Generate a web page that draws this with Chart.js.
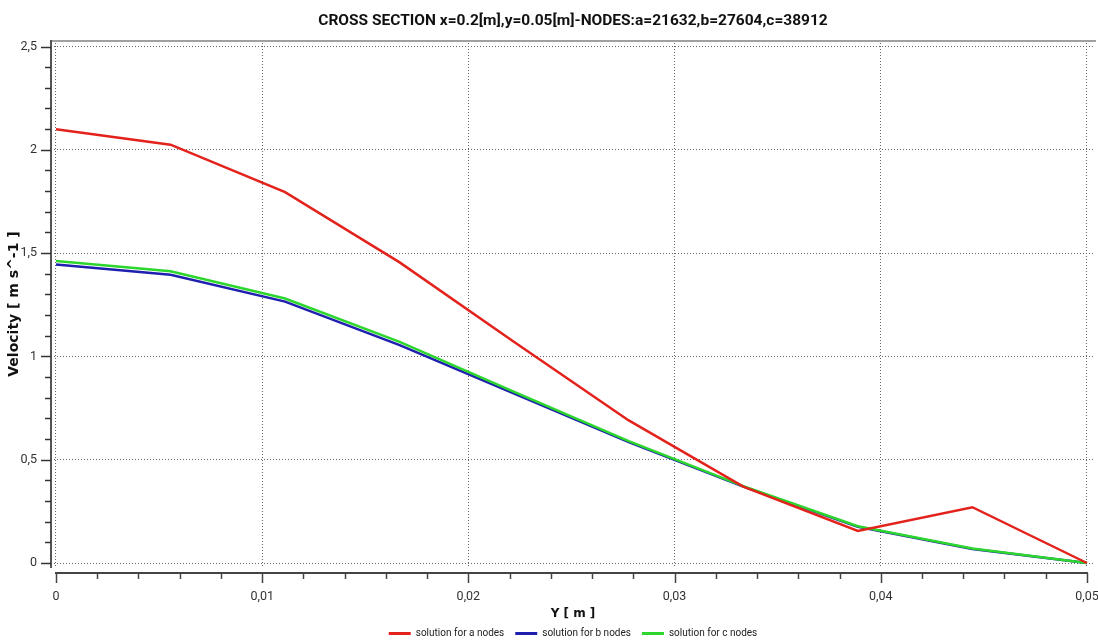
<!DOCTYPE html>
<html>
<head>
<meta charset="utf-8">
<script src="https://cdn.jsdelivr.net/npm/chart.js@4/dist/chart.umd.min.js"></script>
<style>
  html, body { margin: 0; padding: 0; background: #ffffff; }
  #wrap { width: 1098px; height: 643px; position: relative; }
</style>
</head>
<body>
<div id="wrap"><canvas id="c" width="1098" height="643"></canvas></div>
<script>
// ---- data ----
const positionsY = [0, 0.005556, 0.011111, 0.016667, 0.022222, 0.027778, 0.033333, 0.038889, 0.044444, 0.05];
const velocityA = [2.10, 2.025, 1.795, 1.455, 1.07, 0.69, 0.37, 0.155, 0.27, 0.00];
const velocityB = [1.445, 1.395, 1.265, 1.055, 0.82, 0.585, 0.37, 0.175, 0.068, 0.00];
const velocityC = [1.462, 1.412, 1.28, 1.07, 0.828, 0.59, 0.372, 0.178, 0.07, 0.00];
const seriesNames = ["solution for a nodes", "solution for b nodes", "solution for c nodes"];
const xTickValues = [0, 0.01, 0.02, 0.03, 0.04, 0.05];
const xTickLabels = ["0", "0,01", "0,02", "0,03", "0,04", "0,05"];
const yTickValues = [0, 0.5, 1, 1.5, 2, 2.5];
const yTickLabels = ["0", "0,5", "1", "1,5", "2", "2,5"];
const xMinorStep = 0.002;
const yMinorStep = 0.1;
const titleText = "CROSS SECTION x=0.2[m],y=0.05[m]-NODES:a=21632,b=27604,c=38912";
const xTitle = "Y [ m ]";
const yTitle = "Velocity [ m s^-1 ]";

const NARROW = "Roboto, 'DejaVu Sans Condensed', sans-serif";

function pts(vals) { return positionsY.map((x, i) => ({ x: x, y: vals[i] })); }

const axisDecor = {
  id: 'axisDecor',
  afterDraw(chart) {
    const ctx = chart.ctx;
    const xs = chart.scales.x, ys = chart.scales.y;
    const ca = chart.chartArea;
    ctx.save();
    // top frame line
    ctx.strokeStyle = '#a0a0a0';
    ctx.lineWidth = 2;
    ctx.beginPath();
    ctx.moveTo(ca.left, ca.top + 1);
    ctx.lineTo(chart.width - 2, ca.top + 1);
    ctx.stroke();
    // y axis line
    const yAxisX = ca.left;
    ctx.strokeStyle = '#555555';
    ctx.lineWidth = 2;
    ctx.beginPath();
    ctx.moveTo(yAxisX, ca.top);
    ctx.lineTo(yAxisX, ca.bottom);
    ctx.stroke();
    // y ticks
    ctx.lineWidth = 1.5;
    ctx.strokeStyle = '#333333';
    const yMax = yTickValues[yTickValues.length - 1];
    for (let k = 0; k * yMinorStep <= yMax + 1e-9; k++) {
      const v = k * yMinorStep;
      const py = Math.round(ys.getPixelForValue(v)) + 0.5;
      const major = (k % 5 === 0);
      ctx.beginPath();
      ctx.moveTo(yAxisX - (major ? 10 : 6), py);
      ctx.lineTo(yAxisX, py);
      ctx.stroke();
    }
    // x axis line
    const xAxisY = ca.bottom + 5;
    const x0 = xs.getPixelForValue(xTickValues[0]);
    const x1 = xs.getPixelForValue(xTickValues[xTickValues.length - 1]);
    ctx.strokeStyle = '#444444';
    ctx.lineWidth = 2;
    ctx.beginPath();
    ctx.moveTo(x0 - 1, xAxisY);
    ctx.lineTo(x1 + 1, xAxisY);
    ctx.stroke();
    ctx.lineWidth = 1.5;
    const xMax = xTickValues[xTickValues.length - 1];
    for (let k = 0; k * xMinorStep <= xMax + 1e-9; k++) {
      const v = k * xMinorStep;
      const px = Math.round(xs.getPixelForValue(v)) + 0.5;
      const major = (k % 5 === 0);
      ctx.beginPath();
      ctx.moveTo(px, xAxisY);
      ctx.lineTo(px, xAxisY + (major ? 10 : 6));
      ctx.stroke();
    }
    ctx.restore();
  }
};

const baseLabels = Chart.defaults.plugins.legend.labels.generateLabels;

new Chart(document.getElementById('c'), {
  type: 'scatter',
  data: {
    datasets: [
      { label: seriesNames[0], data: pts(velocityA), showLine: true, borderColor: '#e3221c', backgroundColor: '#e3221c', borderWidth: 2.5, pointRadius: 0, tension: 0, order: 0 },
      { label: seriesNames[1], data: pts(velocityB), showLine: true, borderColor: '#1f1fb0', backgroundColor: '#1f1fb0', borderWidth: 2.5, pointRadius: 0, tension: 0, order: 2 },
      { label: seriesNames[2], data: pts(velocityC), showLine: true, borderColor: '#2cd62c', backgroundColor: '#2cd62c', borderWidth: 2.5, pointRadius: 0, tension: 0, order: 1 }
    ]
  },
  options: {
    responsive: false,
    animation: false,
    devicePixelRatio: 1,
    layout: { padding: { left: 0, right: 3, top: 0, bottom: -5.5 } },
    plugins: {
      tooltip: { enabled: false },
      title: {
        display: true,
        text: titleText,
        fullSize: false,
        color: '#111111',
        font: { family: NARROW, size: 15.5, weight: 'bold', lineHeight: 1.2 },
        padding: { top: 11.5, bottom: 9.9 }
      },
      legend: {
        display: true,
        position: 'bottom',
        fullSize: false,
        labels: {
          boxWidth: 22,
          boxHeight: 3,
          padding: 11,
          color: '#222222',
          font: { family: NARROW, size: 10 },
          sort: (a, b) => a.datasetIndex - b.datasetIndex,
          generateLabels: (chart) => baseLabels(chart).map(l => Object.assign({}, l, { lineWidth: 0 }))
        }
      }
    },
    scales: {
      x: {
        type: 'linear',
        min: -0.000242,
        max: 0.05039,
        afterBuildTicks: (s) => { s.ticks = xTickValues.map(v => ({ value: v })); },
        afterFit: (s) => { s.height = 49.5; s.paddingLeft = 0; s.paddingRight = 0; },
        ticks: {
          padding: 21,
          color: '#333333',
          font: { family: NARROW, size: 12.5 },
          maxRotation: 0,
          autoSkip: false,
          callback: (v, i) => xTickLabels[i]
        },
        grid: { drawTicks: false, color: '#666666', lineWidth: 1 },
        border: { display: false, dash: [1, 2] },
        title: {
          display: true,
          text: xTitle,
          color: '#111111',
          font: { family: "'DejaVu Sans', sans-serif", size: 12, weight: 'bold' },
          padding: { top: 0, bottom: -3.5 }
        }
      },
      y: {
        type: 'linear',
        min: -0.0242,
        max: 2.5315,
        afterBuildTicks: (s) => { s.ticks = yTickValues.map(v => ({ value: v })); },
        afterFit: (s) => { s.width = 51; s.paddingTop = 0; s.paddingBottom = 0; },
        ticks: {
          padding: 14,
          color: '#333333',
          font: { family: NARROW, size: 12.5 },
          autoSkip: false,
          callback: (v, i) => yTickLabels[i]
        },
        grid: { drawTicks: false, color: '#666666', lineWidth: 1 },
        border: { display: false, dash: [1, 2] },
        title: {
          display: true,
          text: yTitle,
          color: '#111111',
          font: { family: "'DejaVu Sans', sans-serif", size: 14, weight: 'bold' },
          padding: { top: 5.5, bottom: 0 }
        }
      }
    }
  },
  plugins: [axisDecor]
});
</script>
</body>
</html>
